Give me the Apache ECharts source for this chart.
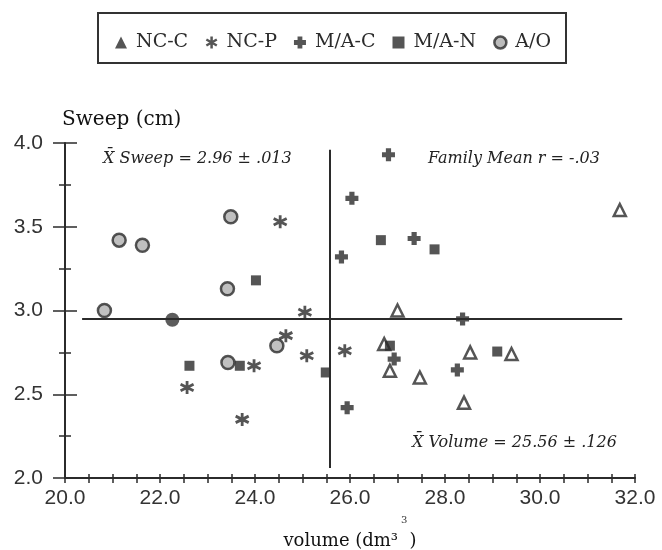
<!DOCTYPE html>
<html>
<head>
<meta charset="utf-8">
<script src="https://cdn.jsdelivr.net/npm/echarts@6/dist/echarts.min.js"></script>
<style>
  html, body { margin: 0; padding: 0; background: #fff; }
  #main { width: 662px; height: 550px; }
</style>
</head>
<body>
<div id="main"></div>
<script>
// 数据: [volume, sweep]
var ncC = [[31.68, 3.60], [27.0, 3.0], [26.72, 2.80], [26.84, 2.64], [27.47, 2.60], [28.53, 2.75], [29.40, 2.74], [28.40, 2.45]];
var ncP = [[24.53, 3.53], [25.05, 2.99], [22.57, 2.54], [23.98, 2.67], [23.73, 2.35], [24.65, 2.85], [25.09, 2.73], [25.89, 2.76]];
var maC = [[26.81, 3.93], [26.04, 3.67], [27.35, 3.43], [25.82, 3.32], [28.37, 2.95], [26.93, 2.71], [28.26, 2.645], [25.94, 2.42]];
var maN = [[24.02, 3.18], [22.62, 2.67], [23.68, 2.67], [25.49, 2.63], [26.65, 3.42], [27.78, 3.365], [26.84, 2.79], [29.10, 2.755]];
var aO = [[20.83, 3.00], [21.14, 3.42], [21.63, 3.39], [23.49, 3.56], [23.42, 3.13], [23.43, 2.69], [24.46, 2.79]];
var aOdark = [[22.26, 2.945]];
var seriesNames = ["NC-C", "NC-P", "M/A-C", "M/A-N", "A/O"];
// 均值线
var meanSweep = 2.95;
var meanVolume = 25.58;
var sweepLine = [20.36, 31.73];
var volumeLine = [2.06, 3.96];

var ink = "#2b2b2b";
var serif = "DejaVu Serif";
var sans = "Liberation Sans";

var asterisk = "path://M0,-10L0,10M-8.7,-5L8.7,5M-8.7,5L8.7,-5";
var cross = "path://M-3.2,-8L3.2,-8L3.2,-3.2L8,-3.2L8,3.2L3.2,3.2L3.2,8L-3.2,8L-3.2,3.2L-8,3.2L-8,-3.2L-3.2,-3.2Z";

var myChart = echarts.init(document.getElementById("main"));

var option = {
  backgroundColor: "#fff",
  animation: false,
  grid: { left: 65, right: 27, top: 143, bottom: 72, outerBoundsMode: "none" },
  legend: {
    left: 110,
    top: 28,
    itemGap: 17,
    itemWidth: 12,
    itemHeight: 12,
    textStyle: { fontFamily: serif, fontSize: 19, color: ink, padding: [0, 0, 0, 4] },
    data: [
      { name: "NC-C", icon: "triangle", itemStyle: { color: ink, borderWidth: 0 } },
      { name: "NC-P", icon: asterisk, itemStyle: { color: ink, borderColor: ink, borderWidth: 2.5 } },
      { name: "M/A-C", icon: cross, itemStyle: { color: ink } },
      { name: "M/A-N", icon: "rect", itemStyle: { color: ink } },
      { name: "A/O", icon: "circle", itemStyle: { color: "#aaa", borderColor: ink, borderWidth: 2.5 } }
    ]
  },
  xAxis: [
    {
      type: "value", min: 20, max: 32, interval: 2,
      name: "volume (dm\u00b3  )", nameLocation: "middle", nameGap: 54,
      nameTextStyle: { fontFamily: serif, fontSize: 18, color: "#111" },
      axisLine: { lineStyle: { color: ink, width: 2 } },
      axisTick: { length: 5, lineStyle: { color: ink, width: 1.5 } },
      minorTick: { show: true, splitNumber: 4, length: 5, lineStyle: { color: ink, width: 1.5 } },
      axisLabel: {
        margin: 10, fontFamily: sans, fontSize: 21, color: "#333",
        formatter: function (v) { return v.toFixed(1); }
      },
      splitLine: { show: false }
    },
    {
      // 向内的刻度
      type: "value", min: 20, max: 32, interval: 2, position: "bottom",
      axisLine: { show: false },
      axisTick: { inside: true, length: 4, lineStyle: { color: ink, width: 1.5 } },
      minorTick: { show: true, splitNumber: 4, length: 4, lineStyle: { color: ink, width: 1.5 } },
      axisLabel: { show: false },
      splitLine: { show: false }
    }
  ],
  yAxis: [
    {
      type: "value", min: 2, max: 4, interval: 0.5,
      name: "Sweep (cm)", nameLocation: "end", nameGap: 13,
      nameTextStyle: { fontFamily: serif, fontSize: 20, color: "#111", align: "left", padding: [0, 0, 0, -3] },
      axisLine: { lineStyle: { color: ink, width: 2 } },
      axisTick: { length: 12, lineStyle: { color: ink, width: 1.5 } },
      minorTick: { show: true, splitNumber: 2, length: 6, lineStyle: { color: ink, width: 1.5 } },
      axisLabel: {
        margin: 22, fontFamily: sans, fontSize: 21, color: "#333",
        formatter: function (v) { return v.toFixed(1); }
      },
      splitLine: { show: false }
    },
    {
      type: "value", min: 2, max: 4, interval: 0.5, position: "left",
      axisLine: { show: false },
      axisTick: { inside: true, length: 12, lineStyle: { color: ink, width: 1.5 } },
      minorTick: { show: true, splitNumber: 2, length: 6, lineStyle: { color: ink, width: 1.5 } },
      axisLabel: { show: false },
      splitLine: { show: false }
    }
  ],
  series: [
    {
      name: seriesNames[0], type: "scatter", data: ncC,
      symbol: "triangle", symbolSize: 12,
      itemStyle: { color: "#fff", borderColor: ink, borderWidth: 2.5 },
      // 均值线
      markLine: {
        silent: true, symbol: "none", label: { show: false },
        lineStyle: { color: ink, width: 2, type: "solid" },
        data: [
          [{ coord: [sweepLine[0], meanSweep] }, { coord: [sweepLine[1], meanSweep] }],
          [{ coord: [meanVolume, volumeLine[0]] }, { coord: [meanVolume, volumeLine[1]] }]
        ]
      },
      z: 3
    },
    {
      name: seriesNames[1], type: "scatter", data: ncP,
      symbol: asterisk, symbolSize: 13,
      itemStyle: { color: ink, borderColor: ink, borderWidth: 2.8 },
      z: 3
    },
    {
      name: seriesNames[2], type: "scatter", data: maC,
      symbol: cross, symbolSize: 13,
      itemStyle: { color: ink },
      z: 3
    },
    {
      name: seriesNames[3], type: "scatter", data: maN,
      symbol: "rect", symbolSize: 10,
      itemStyle: { color: ink },
      z: 3
    },
    {
      name: seriesNames[4], type: "scatter", data: aO,
      symbol: "circle", symbolSize: 13,
      itemStyle: { color: "#b0b0b0", borderColor: ink, borderWidth: 2.5 },
      z: 3
    },
    {
      name: seriesNames[4], type: "scatter", data: aOdark,
      symbol: "circle", symbolSize: 14,
      itemStyle: { color: "#333" },
      z: 3
    }
  ],
  graphic: [
    {
      type: "rect", left: 97, top: 12, z: -1,
      shape: { width: 468, height: 50 },
      style: { fill: "#fff", stroke: "#333", lineWidth: 2 }
    },
    {
      type: "text", left: 103, top: 151,
      style: { text: "X\u0304 Sweep = 2.96 \u00b1 .013", font: "italic 16px 'DejaVu Serif'", fill: "#222" }
    },
    {
      type: "text", left: 428, top: 151,
      style: { text: "Family Mean r = -.03", font: "italic 16px 'DejaVu Serif'", fill: "#222" }
    },
    {
      type: "text", left: 412, top: 435,
      style: { text: "X\u0304 Volume = 25.56 \u00b1 .126", font: "italic 16px 'DejaVu Serif'", fill: "#222" }
    },
    {
      type: "text", left: 401, top: 515,
      style: { text: "3", font: "10px 'DejaVu Serif'", fill: "#333" }
    }
  ]
};

myChart.setOption(option);
</script>
</body>
</html>
